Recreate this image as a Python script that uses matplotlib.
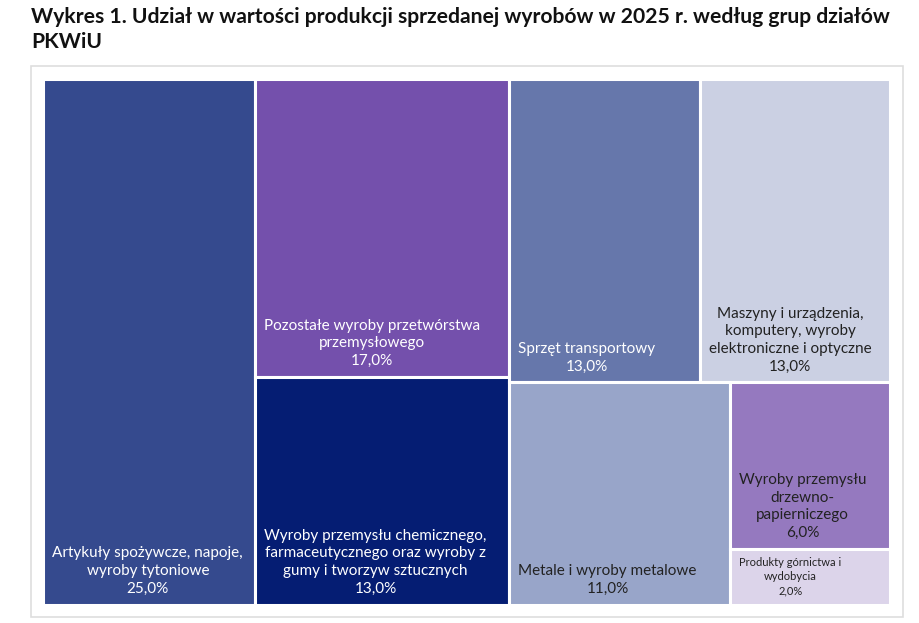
"""
Treemap: Udział w wartości produkcji sprzedanej wyrobów w 2025 r. według grup działów PKWiU.
"""
import matplotlib
matplotlib.use("Agg")
import matplotlib.pyplot as plt
from matplotlib.patches import Rectangle

plt.rcParams["font.family"] = ["Lato", "DejaVu Sans"]

TITLE = ("Wykres 1. Udział w wartości produkcji sprzedanej wyrobów w 2025 r. według grup działów\n"
         "PKWiU")

labels = [
    "Artykuły spożywcze, napoje,\nwyroby tytoniowe",
    "Pozostałe wyroby przetwórstwa\nprzemysłowego",
    "Wyroby przemysłu chemicznego,\nfarmaceutycznego oraz wyroby z\ngumy i tworzyw sztucznych",
    "Sprzęt transportowy",
    "Maszyny i urządzenia,\nkomputery, wyroby\nelektroniczne i optyczne",
    "Metale i wyroby metalowe",
    "Wyroby przemysłu\ndrzewno-\npapierniczego",
    "Produkty górnictwa i\nwydobycia",
]
values = [25.0, 17.0, 13.0, 13.0, 13.0, 11.0, 6.0, 2.0]
colors = ["#354a8e", "#7450ac", "#051d73", "#6677ab",
          "#cbd0e3", "#98a5c9", "#9579bf", "#dcd4ea"]
text_colors = ["white", "white", "white", "white",
               "#222222", "#222222", "#222222", "#222222"]
font_sizes = [11, 11, 11, 11, 11, 11, 11, 8]

# nesting of the tiles: 'h' = side by side, 'v' = stacked top to bottom
layout = ("h", [0, ("v", [1, 2]), ("v", [("h", [3, 4]), ("h", [5, ("v", [6, 7])])])])


def node_total(node):
    if isinstance(node, int):
        return values[node]
    return sum(node_total(c) for c in node[1])


def split(node, x, y, w, h, out):
    if isinstance(node, int):
        out[node] = (x, y, w, h)
        return
    direction, children = node
    total = node_total(node)
    for child in children:
        frac = node_total(child) / total
        if direction == "h":
            split(child, x, y, w * frac, h, out)
            x += w * frac
        else:
            split(child, x, y, w, h * frac, out)
            y += h * frac


def fmt_pct(v):
    return f"{v:.1f}".replace(".", ",") + "%"


def main():
    W, H = 920, 623
    fig = plt.figure(figsize=(W / 100, H / 100), dpi=100)

    # light frame around the chart
    fig.patches.append(Rectangle((31 / W, 1 - 617 / H), (903 - 31) / W, (617 - 66) / H,
                                 transform=fig.transFigure, fill=False,
                                 edgecolor="#dedede", linewidth=1.2))

    fig.text(31 / W, 1 - 7 / H, TITLE, ha="left", va="top", fontsize=15.2,
             fontweight="bold", color="#111111", linespacing=1.3)

    ax = fig.add_axes([43.5 / W, 1 - 604.5 / H, 847 / W, 526 / H])
    ax.set_xlim(0, 1)
    ax.set_ylim(1, 0)
    ax.axis("off")

    rects = {}
    split(layout, 0.0, 0.0, 1.0, 1.0, rects)

    for i, lab in enumerate(labels):
        x, y, w, h = rects[i]
        ax.add_patch(Rectangle((x, y), w, h, facecolor=colors[i],
                               edgecolor="white", linewidth=2.2))
        small = font_sizes[i] < 9
        ax.annotate(f"{lab}\n{fmt_pct(values[i])}", xy=(x, y + h),
                    xytext=(9, 8 if small else 9), textcoords="offset pixels",
                    ha="left", va="bottom", multialignment="center",
                    fontsize=font_sizes[i], color=text_colors[i],
                    linespacing=1.35 if small else 1.32)

    fig.savefig("out.png", dpi=100)


if __name__ == "__main__":
    main()
